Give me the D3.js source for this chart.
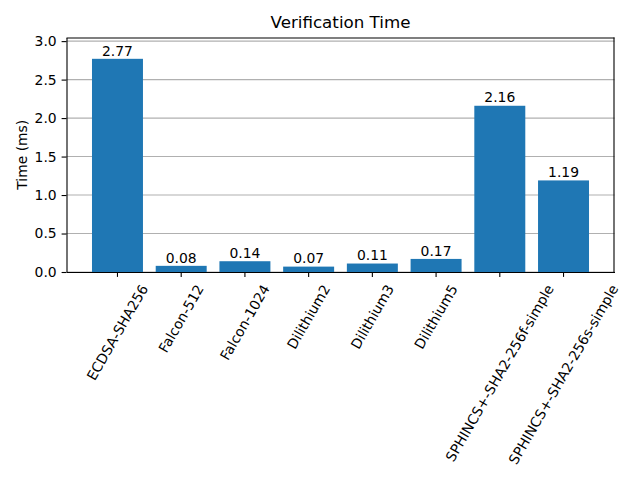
<!DOCTYPE html>
<html>
  <head>
    <meta charset="utf-8">
    <script src="https://d3js.org/d3.v7.min.js"></script>
  </head>
  <style>
body { margin: 0; background: #fff; }
text { font-family: "DejaVu Sans", sans-serif; fill: black; }
.grid line { stroke: #b0b0b0; stroke-width: 1.1px; }
  </style>
  <body>
    <div id="my_chart"></div>
    <script type="text/javascript">
        // chart data
        var schemes = ["ECDSA-SHA256", "Falcon-512", "Falcon-1024", "Dilithium2", "Dilithium3", "Dilithium5", "SPHINCS+-SHA2-256f-simple", "SPHINCS+-SHA2-256s-simple"];
        var times = [2.77, 0.08, 0.14, 0.07, 0.11, 0.17, 2.16, 1.19];
        var yTicks = [0.0, 0.5, 1.0, 1.5, 2.0, 2.5, 3.0];
        var yMax = 3.047;

        var margin = {top: 37.5, right: 25.5, bottom: 208, left: 66.5},
            width = 640 - margin.left - margin.right,
            height = 480 - margin.top - margin.bottom;

        var svg = d3.select("#my_chart")
            .append("svg")
                .attr("width", 640)
                .attr("height", 480)
            .append("g")
                .attr("transform", "translate(" + margin.left + "," + margin.top + ")");

        var x = d3.scaleBand()
            .domain(schemes)
            .range([0, width])
            .paddingInner(0.2)
            .paddingOuter(0.4);

        var y = d3.scaleLinear()
            .domain([0, yMax])
            .range([height, 0]);

        // gridlines behind bars
        svg.append("g")
            .attr("class", "grid")
            .selectAll("line")
            .data(yTicks)
            .enter().append("line")
                .attr("x1", 0)
                .attr("x2", width)
                .attr("y1", function(d) { return y(d); })
                .attr("y2", function(d) { return y(d); });

        // bars
        svg.append("g")
            .selectAll("rect")
            .data(times)
            .enter().append("rect")
                .attr("x", function(d, i) { return x(schemes[i]); })
                .attr("y", function(d) { return y(d); })
                .attr("width", x.bandwidth())
                .attr("height", function(d) { return height - y(d); })
                .attr("fill", "#1f77b4");

        // value labels
        svg.append("g")
            .selectAll("text")
            .data(times)
            .enter().append("text")
                .attr("x", function(d, i) { return x(schemes[i]) + x.bandwidth() / 2; })
                .attr("y", function(d) { return y(d) - 3.3; })
                .attr("text-anchor", "middle")
                .attr("font-size", "13.9px")
                .text(function(d) { return d.toFixed(2); });

        // y axis
        var yAxis = svg.append("g")
            .call(d3.axisLeft(y).tickValues(yTicks).tickFormat(d3.format(".1f"))
                .tickSize(4.9).tickSizeOuter(0).tickPadding(4.9));
        yAxis.selectAll("text").attr("font-size", "13.9px").attr("font-family", "DejaVu Sans");
        yAxis.select(".domain").attr("stroke-width", 1.1);
        yAxis.selectAll(".tick line").attr("stroke-width", 1.1);

        // x axis
        var xAxis = svg.append("g")
            .attr("transform", "translate(0," + height + ")")
            .call(d3.axisBottom(x).tickSize(4.9).tickSizeOuter(0).tickPadding(4.9));
        xAxis.select(".domain").attr("stroke-width", 1.1);
        xAxis.selectAll(".tick line").attr("stroke-width", 1.1);
        var s60 = Math.sin(Math.PI / 3), c60 = Math.cos(Math.PI / 3);
        xAxis.selectAll("text")
            .attr("font-size", "13.9px")
            .attr("font-family", "DejaVu Sans")
            .each(function() {
                var L = this.getComputedTextLength();
                var h = 13.9 * 1.164;
                var cy = 9.8 + (L * s60 + h * c60) / 2;
                d3.select(this)
                    .attr("x", 0)
                    .attr("y", cy)
                    .attr("dy", "0.346em")
                    .attr("text-anchor", "middle")
                    .attr("transform", "rotate(-60,0," + cy + ")");
            });

        // top and right spines
        svg.append("line")
            .attr("x1", 0).attr("x2", width).attr("y1", 0.5).attr("y2", 0.5)
            .attr("stroke", "black").attr("stroke-width", 1.1);
        svg.append("line")
            .attr("x1", width - 0.5).attr("x2", width - 0.5).attr("y1", 0).attr("y2", height)
            .attr("stroke", "black").attr("stroke-width", 1.1);

        // title and axis label
        svg.append("text")
            .attr("x", width / 2)
            .attr("y", -9.5)
            .attr("text-anchor", "middle")
            .attr("font-size", "16.7px")
            .text("Verification Time");

        svg.append("text")
            .attr("transform", "translate(" + (22 - margin.left) + "," + (height / 2) + ") rotate(-90)")
            .attr("dy", "0.346em")
            .attr("text-anchor", "middle")
            .attr("font-size", "13.9px")
            .text("Time (ms)");
    </script>
  </body>
</html>
